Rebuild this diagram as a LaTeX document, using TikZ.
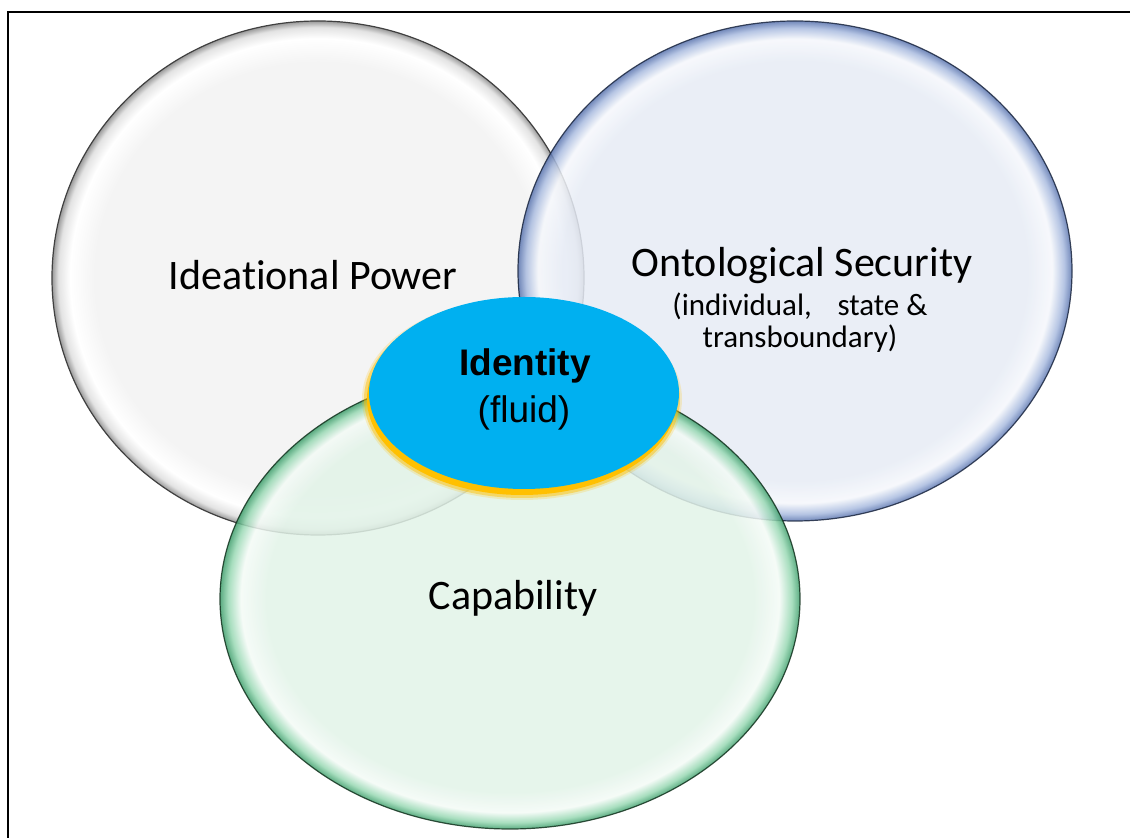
\documentclass[tikz,border=0pt]{standalone}
\usepackage{fontspec}
\setmainfont{Carlito}[Ligatures={NoCommon,NoRare,NoContextual},RawFeature={-calt;-clig;-rlig}]
\newfontfamily\arialfont{Liberation Sans}
\usetikzlibrary{positioning}

\definecolor{idblue}{HTML}{00B0F0}
\definecolor{idgold}{HTML}{FFC000}
\definecolor{grayfill}{HTML}{F4F4F4}
\definecolor{grayrim}{HTML}{9A9A9A}
\definecolor{bluefill}{HTML}{E6EBF5}
\definecolor{bluerim}{HTML}{5A74AE}
\definecolor{blueband}{HTML}{A9BBDF}
\definecolor{blueline}{HTML}{1B2740}
\definecolor{greenfill}{HTML}{E2F3E8}
\definecolor{greenrim}{HTML}{3F9E6C}
\definecolor{greenband}{HTML}{98D8B3}
\definecolor{greenline}{HTML}{13331F}

% glossy rims, 25bp is the edge of the ellipse
\pgfdeclareradialshading{graybubble}{\pgfpointorigin}{color(0bp)=(grayfill); color(21bp)=(grayfill); color(23.3bp)=(white); color(24.4bp)=(gray!22); color(25bp)=(grayrim); color(50bp)=(grayrim)}
\pgfdeclareradialshading{bluebubble}{\pgfpointorigin}{color(0bp)=(bluefill); color(21bp)=(bluefill); color(23.2bp)=(white!60!bluefill); color(24.3bp)=(blueband); color(25bp)=(bluerim); color(50bp)=(bluerim)}
\pgfdeclareradialshading{greenbubble}{\pgfpointorigin}{color(0bp)=(greenfill); color(21bp)=(greenfill); color(23.2bp)=(white!60!greenfill); color(24.3bp)=(greenband); color(25bp)=(greenrim); color(50bp)=(greenrim)}

\begin{document}
\begin{tikzpicture}[x=1pt,y=1pt,
	big/.style={anchor=base,font=\fontsize{42}{48}\selectfont},
	small/.style={anchor=base,font=\fontsize{31}{36}\selectfont},
	idtext/.style={anchor=base,font=\arialfont\fontsize{37}{42}\selectfont}]

\useasboundingbox (0,0) rectangle (1130,838);

%frame
\draw[line width=2.2pt] (8,-10) |- (1140,826);

%three bubbles
\shade[shading=graybubble,draw=black!75,line width=1.2pt] (318,560) ellipse [x radius=266pt,y radius=257pt];
\shade[shading=bluebubble,opacity=0.85,draw=blueline,line width=1.2pt] (795,567) ellipse [x radius=277pt,y radius=250pt];
\shade[shading=greenbubble,opacity=0.85,draw=greenline,line width=1.2pt] (510,239) ellipse [x radius=290pt,y radius=230pt];

%identity in the middle
\foreach \o/\d in {0.2/5,0.45/3,1/0}
	\fill[idgold,opacity=\o] (522,439) ellipse [x radius=155pt+\d pt,y radius=96pt+\d pt];
\fill[idblue] (524,445) ellipse [x radius=155pt,y radius=96pt];

\node[big] (ideational) at (313,548) {Ideational Power};
\node[big] (onto) at (802,561) {Ontological Security};
\node[small] (ontoA) at (800,522) {(individual,\hspace{0.6em} state \&};
\node[small] (ontoB) at (800,490) {transboundary)};
\node[big] (capab) at (513,228) {Capability};
\node[idtext,font=\arialfont\bfseries\fontsize{37}{42}\selectfont] (ident) at (525,462) {Identity};
\node[idtext] (fluid) at (524,415) {(fluid)};

\end{tikzpicture}
\end{document}
